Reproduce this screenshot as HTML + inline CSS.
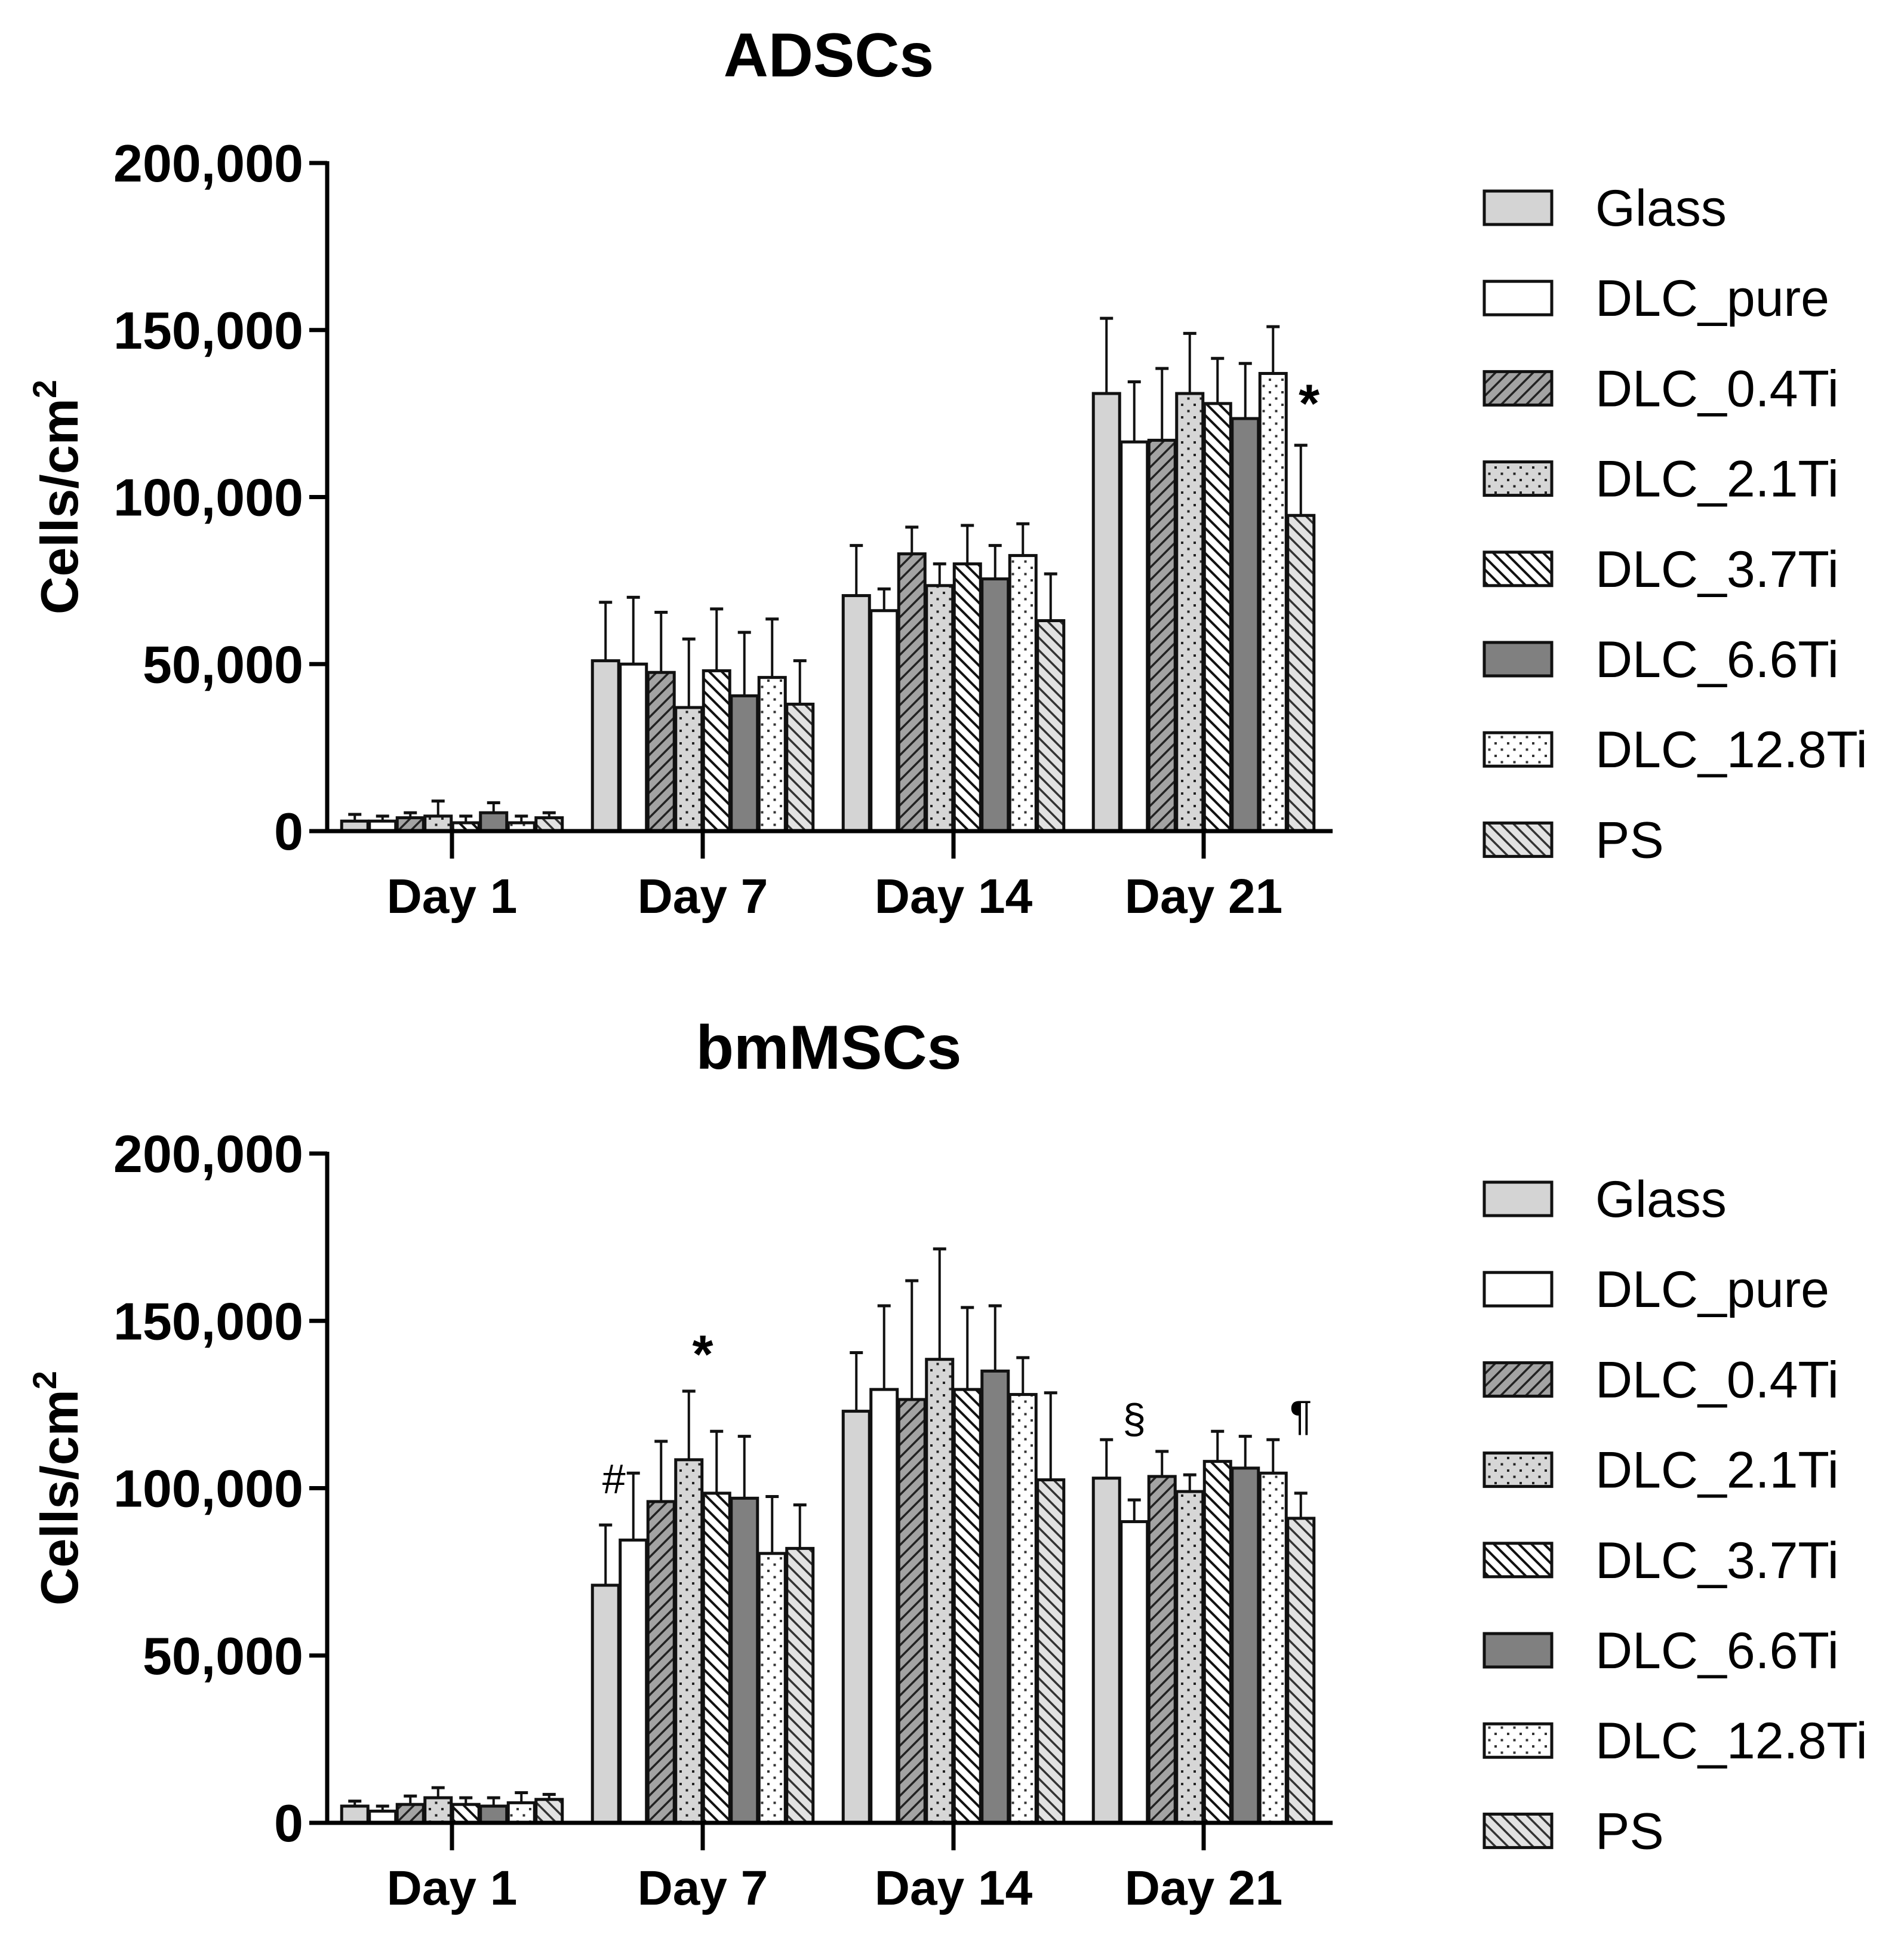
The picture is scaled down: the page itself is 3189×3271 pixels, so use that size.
<!DOCTYPE html>
<html><head><meta charset="utf-8"><style>
html,body{margin:0;padding:0;background:#fff;}
svg{display:block;}
text{font-family:"Liberation Sans",Arial,sans-serif;}
</style></head><body>
<svg id="fig" width="3189" height="3271" viewBox="0 0 3189 3271" xmlns="http://www.w3.org/2000/svg">
<defs>
<pattern id="p04" patternUnits="userSpaceOnUse" width="21" height="21"><rect width="21" height="21" fill="#a3a3a3"/><path d="M-5,26 L26,-5 M-5,5 L5,-5 M16,26 L26,16" stroke="#222" stroke-width="3.5"/></pattern>
<pattern id="p21" patternUnits="userSpaceOnUse" width="21" height="21"><rect width="21" height="21" fill="#d6d6d6"/><rect x="4" y="4" width="4" height="4" fill="#222"/><rect x="14.5" y="14.5" width="4" height="4" fill="#222"/></pattern>
<pattern id="p37" patternUnits="userSpaceOnUse" width="21" height="21"><rect width="21" height="21" fill="#fff"/><path d="M-5,-5 L26,26 M-5,16 L5,26 M16,-5 L26,5" stroke="#111" stroke-width="4"/></pattern>
<pattern id="p128" patternUnits="userSpaceOnUse" width="21" height="21"><rect width="21" height="21" fill="#fff"/><rect x="4" y="4" width="4" height="4" fill="#333"/><rect x="14.5" y="14.5" width="4" height="4" fill="#333"/></pattern>
<pattern id="pps" patternUnits="userSpaceOnUse" width="21" height="21"><rect width="21" height="21" fill="#e2e2e2"/><path d="M-5,-5 L26,26 M-5,16 L5,26 M16,-5 L26,5" stroke="#333" stroke-width="3.5"/></pattern>
</defs>
</svg>
<script>
const categories=["Day 1","Day 7","Day 14","Day 21"];
const seriesNames=["Glass","DLC_pure","DLC_0.4Ti","DLC_2.1Ti","DLC_3.7Ti","DLC_6.6Ti","DLC_12.8Ti","PS"];
const fills=["#d4d4d4","#ffffff","url(#p04)","url(#p21)","url(#p37)","#808080","url(#p128)","url(#pps)"];
const yTicks=[0,50000,100000,150000,200000];
const yTickLabels=["0","50,000","100,000","150,000","200,000"];
const adscMean=[[3000,51000,70500,131000],[3000,50000,66000,116500],[4000,47500,83000,117000],[4500,37000,73500,131000],[2500,48000,80000,128000],[5500,40500,75500,123500],[2500,46000,82500,137000],[4000,38000,63000,94500]];
const adscErr=[[5000,68500,85500,153500],[4500,70000,72500,134500],[5500,65500,91000,138500],[9000,57500,80000,149000],[4500,66500,91500,141500],[8500,59500,85500,140000],[4500,63500,92000,151000],[5500,51000,77000,115500]];
const bmMean=[[5000,71000,123000,103000],[3500,84500,129500,90000],[5500,96000,126500,103500],[7500,108500,138500,99000],[5500,98500,129500,108000],[5000,97000,135000,106000],[6000,80500,128000,104500],[7000,82000,102500,91000]];
const bmErr=[[6500,89000,140500,114500],[5000,104500,154500,96500],[8000,114000,162000,111000],[10500,129000,171500,104000],[7500,117000,154000,117000],[7500,115500,154500,115500],[9000,97500,139000,114500],[8500,95000,128500,98500]];
const adscMarks=[{t:"*",day:3,pos:7.3,v:122500}];
const bmMarks=[{t:"#",day:1,pos:0.3,v:98500},{t:"*",day:1,pos:3.5,v:134500},{t:"§",day:3,pos:1,v:116500},{t:"¶",day:3,pos:7,v:117500}];

const svg=document.getElementById('fig');
const NS="http://www.w3.org/2000/svg";
function mk(tag,attrs,parent){const e=document.createElementNS(NS,tag);for(const k in attrs)e.setAttribute(k,attrs[k]);(parent||svg).appendChild(e);return e;}

function panel(title,titleY,top,zero,mean,err,marks,legTop,pname){
  const g=mk('g',{});
  
  
  const x0=548,x1=2232;
  const ymax=200000;
  const Y=v=>zero-(v/ymax)*(zero-top);
  const dayX=[757,1177,1597,2016];
  const slot=46.5,bw=44;
  const X=(d,s)=>dayX[d]+(s-3.5)*slot;
  const t=mk('text',{x:1388,y:titleY,'font-size':104,'font-weight':'bold','text-anchor':'middle'},g);
  t.textContent=title;
  
  
  const yl=mk('text',{x:0,y:0,'font-size':88,'font-weight':'bold','text-anchor':'middle',transform:`translate(130,${(top+zero)/2}) rotate(-90)`},g);
  yl.innerHTML='Cells/cm<tspan font-size="56" dy="-36">2</tspan>';
  
  
  for(let s=0;s<8;s++){for(let d=0;d<4;d++){
    const cx=X(d,s);
    const eb=mk('line',{x1:cx,x2:cx,y1:Y(mean[s][d]),y2:Y(err[s][d]),stroke:'#111','stroke-width':4},g);
    
    
    const cap=mk('line',{x1:cx-11,x2:cx+11,y1:Y(err[s][d]),y2:Y(err[s][d]),stroke:'#111','stroke-width':5},g);
    
    
    const r=mk('rect',{x:cx-bw/2,y:Y(mean[s][d]),width:bw,height:zero-Y(mean[s][d]),fill:fills[s],stroke:'#111','stroke-width':5},g);
    
    
  }}
  const ya=mk('line',{x1:x0,x2:x0,y1:top-3,y2:zero+3,stroke:'#000','stroke-width':7},g);
  
  
  const xa=mk('line',{x1:x0-3,x2:x1,y1:zero,y2:zero,stroke:'#000','stroke-width':7},g);
  
  
  yTicks.forEach((v,i)=>{
    const tk=mk('line',{x1:x0-30,x2:x0,y1:Y(v),y2:Y(v),stroke:'#000','stroke-width':7},g);
    
    
    const tl=mk('text',{x:x0-40,y:Y(v)+31,'font-size':88,'font-weight':'bold','text-anchor':'end'},g);
    tl.textContent=yTickLabels[i];
    
    
  });
  categories.forEach((c,d)=>{
    const tk=mk('line',{x1:dayX[d],x2:dayX[d],y1:zero,y2:zero+46,stroke:'#000','stroke-width':7},g);
    
    
    const tl=mk('text',{x:dayX[d],y:zero+137,'font-size':82,'font-weight':'bold','text-anchor':'middle'},g);
    tl.textContent=c;
    
    
  });
  marks.forEach(m=>{
    const tx=mk('text',{x:X(m.day,0)+m.pos*slot,y:Y(m.v),'font-size':m.t=='*'?90:70,'font-weight':m.t=='*'?'bold':'normal','text-anchor':'middle'},g);
    tx.textContent=m.t;
    
    
  });
  seriesNames.forEach((n,s)=>{
    const yy=legTop+s*151.2;
    const lr=mk('rect',{x:2486,y:yy-28,width:113,height:56,fill:fills[s],stroke:'#111','stroke-width':5},g);
    
    
    const lt=mk('text',{x:2672,y:yy+30,'font-size':86},g);
    lt.textContent=n;
    
    
  });
}
panel("ADSCs",128,273,1392,adscMean,adscErr,adscMarks,348,'adscs');
panel("bmMSCs",1790,1932,3053,bmMean,bmErr,bmMarks,2008,'bmmscs');
</script>
</body></html>
